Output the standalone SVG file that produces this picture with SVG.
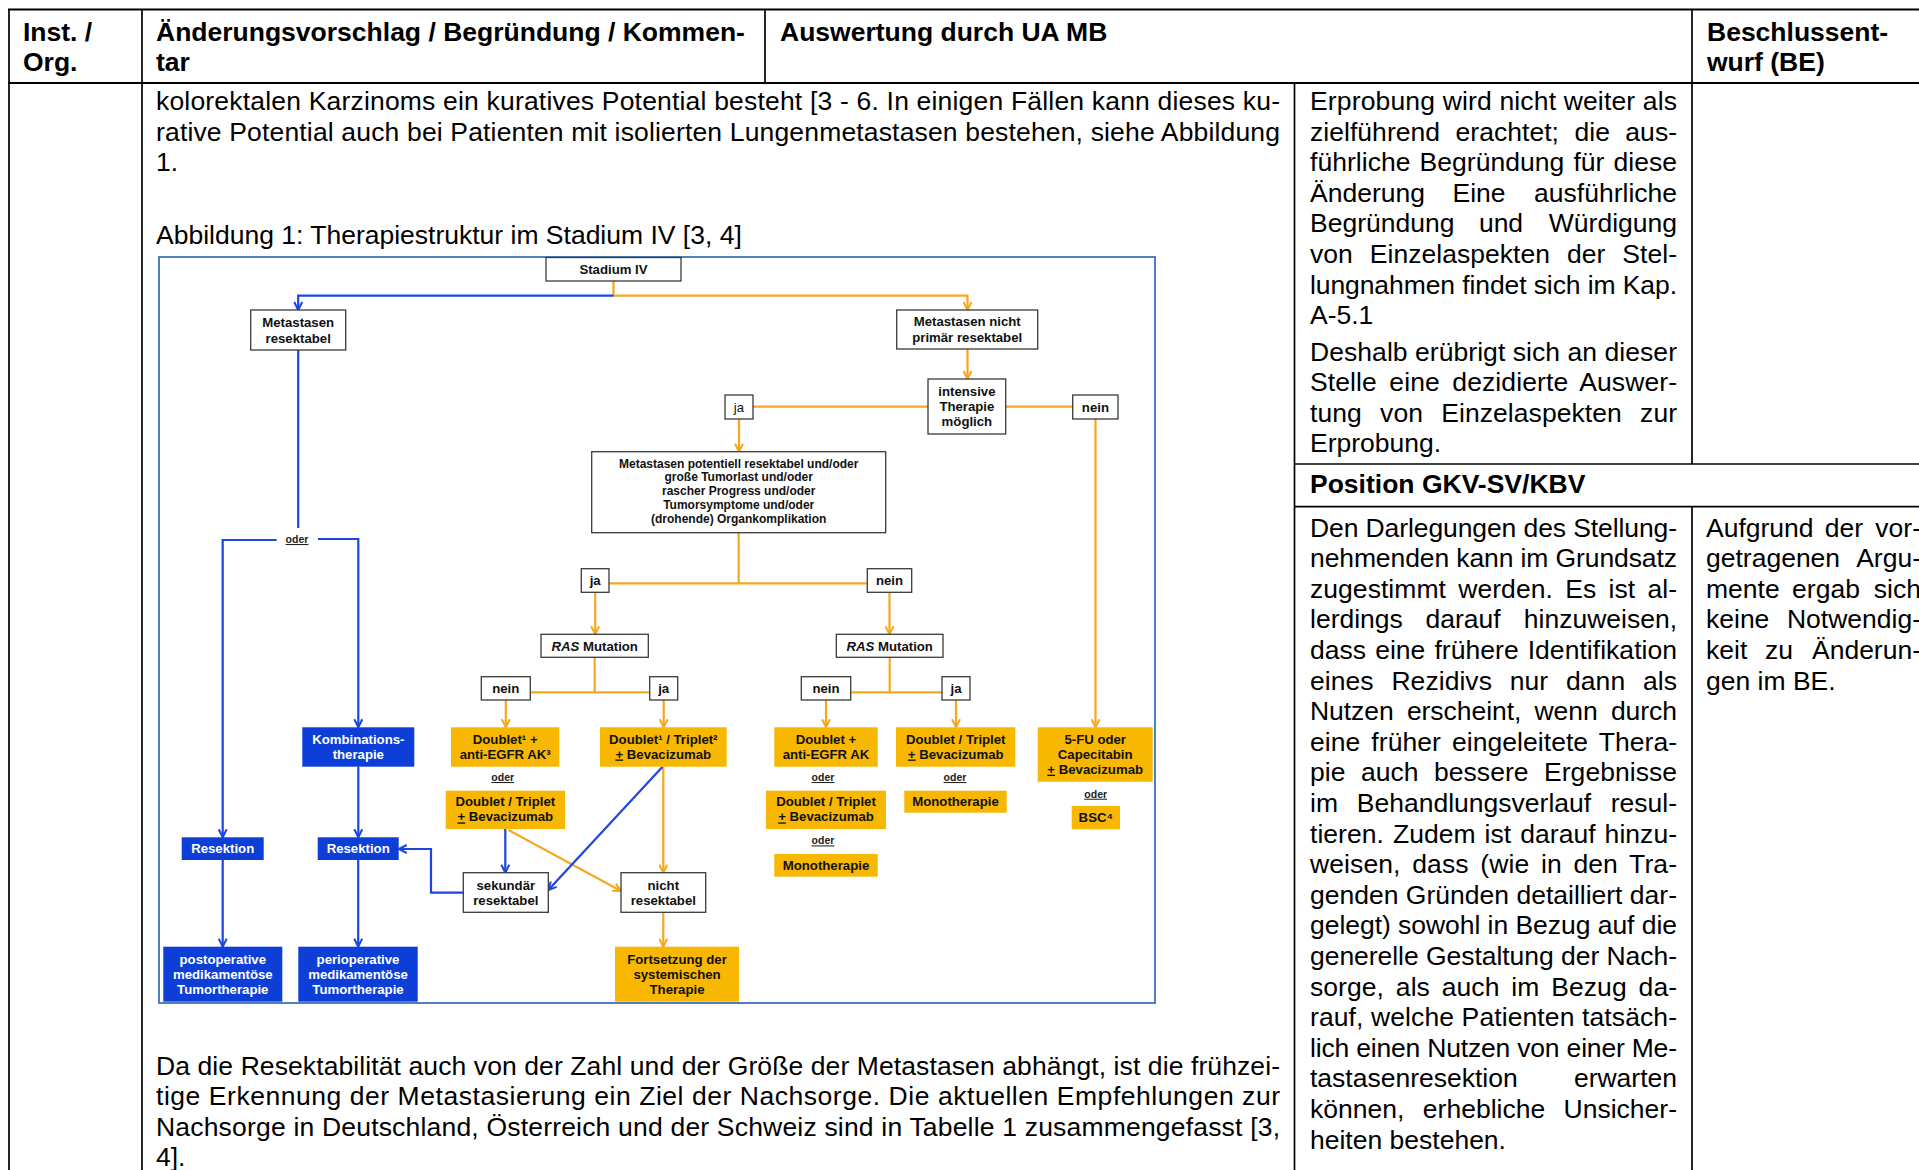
<svg xmlns="http://www.w3.org/2000/svg" width="1919" height="1170" viewBox="0 0 1919 1170">
<defs>
<style>
.t{font-family:"Liberation Sans",Arial,sans-serif;font-size:26.5px;fill:#000}
.b{font-weight:bold}
.ln{stroke:#000;stroke-width:1.7;fill:none}
.lnb{stroke:#000;stroke-width:2.2;fill:none}
.f{font-family:"Liberation Sans",Arial,sans-serif;font-size:13.2px;font-weight:bold;text-anchor:middle;fill:#111}
.fr{font-weight:normal}
.fs{font-size:12px}
.fw{fill:#fff}
.od{font-family:"Liberation Sans",Arial,sans-serif;font-size:10.5px;font-weight:bold;text-anchor:middle;fill:#222;text-decoration:underline}
.wb{fill:#fff;stroke:#3a3a3a;stroke-width:1.3}
.bb{fill:#0d3fd8}
.ob{fill:#f8b700}
.cb{stroke:#1b46e2;stroke-width:2.2;fill:none}
.co{stroke:#f5a81e;stroke-width:2.2;fill:none}
.mb{marker-end:url(#ab)}
.mo{marker-end:url(#ao)}
</style>
<marker id="ab" viewBox="0 0 10 10" refX="9" refY="5" markerWidth="10" markerHeight="10" markerUnits="userSpaceOnUse" orient="auto"><path d="M1,1 L9,5 L1,9" fill="none" stroke="#1b46e2" stroke-width="2"/></marker>
<marker id="ao" viewBox="0 0 10 10" refX="9" refY="5" markerWidth="10" markerHeight="10" markerUnits="userSpaceOnUse" orient="auto"><path d="M1,1 L9,5 L1,9" fill="none" stroke="#f5a81e" stroke-width="2"/></marker>
</defs>
<rect x="0" y="0" width="1919" height="1170" fill="#fff"/>

<g id="table">
<line class="lnb" x1="8" y1="9.5" x2="1919" y2="9.5"/>
<line class="lnb" x1="8" y1="83" x2="1919" y2="83"/>
<line class="ln" x1="9" y1="9" x2="9" y2="1170"/>
<line class="ln" x1="142" y1="9" x2="142" y2="1170"/>
<line class="ln" x1="765" y1="9" x2="765" y2="83"/>
<line class="ln" x1="1294.5" y1="83" x2="1294.5" y2="1170"/>
<line class="ln" x1="1692" y1="9" x2="1692" y2="464"/>
<line class="ln" x1="1692" y1="506.7" x2="1692" y2="1170"/>
<line class="ln" x1="1294.5" y1="464" x2="1919" y2="464"/>
<line class="ln" x1="1294.5" y1="506.7" x2="1919" y2="506.7"/>
</g>

<g id="header">
<text class="t b" x="23" y="41">Inst. /</text>
<text class="t b" x="23" y="71">Org.</text>
<text class="t b" x="156" y="41">Änderungsvorschlag / Begründung / Kommen-</text>
<text class="t b" x="156" y="71">tar</text>
<text class="t b" x="780" y="41">Auswertung durch UA MB</text>
<text class="t b" x="1707" y="41">Beschlussent-</text>
<text class="t b" x="1707" y="71">wurf (BE)</text>
</g>

<g id="left-text">
<text class="t" x="156" y="110" textLength="1124" lengthAdjust="spacing">kolorektalen Karzinoms ein kuratives Potential besteht [3 - 6. In einigen Fällen kann dieses ku-</text>
<text class="t" x="156" y="140.6" textLength="1124" lengthAdjust="spacing">rative Potential auch bei Patienten mit isolierten Lungenmetastasen bestehen, siehe Abbildung</text>
<text class="t" x="156" y="171.2">1.</text>
<text class="t" x="156" y="244">Abbildung 1: Therapiestruktur im Stadium IV [3, 4]</text>
<text class="t" x="156" y="1074.5" textLength="1124" lengthAdjust="spacing">Da die Resektabilität auch von der Zahl und der Größe der Metastasen abhängt, ist die frühzei-</text>
<text class="t" x="156" y="1105" textLength="1124" lengthAdjust="spacing">tige Erkennung der Metastasierung ein Ziel der Nachsorge. Die aktuellen Empfehlungen zur</text>
<text class="t" x="156" y="1135.5" textLength="1124" lengthAdjust="spacing">Nachsorge in Deutschland, Österreich und der Schweiz sind in Tabelle 1 zusammengefasst [3,</text>
<text class="t" x="156" y="1166">4].</text>
</g>

<g id="ua-text">
<text class="t" x="1310" y="110" textLength="367" lengthAdjust="spacing">Erprobung wird nicht weiter als</text>
<text class="t" x="1310" y="140.6" word-spacing="8" textLength="367" lengthAdjust="spacing">zielführend erachtet; die aus-</text>
<text class="t" x="1310" y="171.2" word-spacing="1.6" textLength="367" lengthAdjust="spacing">führliche Begründung für diese</text>
<text class="t" y="201.8"><tspan x="1310">Änderung</tspan><tspan x="1479" text-anchor="middle">Eine</tspan><tspan x="1677" text-anchor="end">ausführliche</tspan></text>
<text class="t" y="232.4"><tspan x="1310">Begründung</tspan><tspan x="1501" text-anchor="middle">und</tspan><tspan x="1677" text-anchor="end">Würdigung</tspan></text>
<text class="t" x="1310" y="263" word-spacing="9.5" textLength="367" lengthAdjust="spacing">von Einzelaspekten der Stel-</text>
<text class="t" x="1310" y="293.6" textLength="367" lengthAdjust="spacing">lungnahmen findet sich im Kap.</text>
<text class="t" x="1310" y="324.2">A-5.1</text>
<text class="t" x="1310" y="360.5" textLength="367" lengthAdjust="spacing">Deshalb erübrigt sich an dieser</text>
<text class="t" x="1310" y="391.1" word-spacing="5" textLength="367" lengthAdjust="spacing">Stelle eine dezidierte Auswer-</text>
<text class="t" x="1310" y="421.7" word-spacing="10.9" textLength="367" lengthAdjust="spacing">tung von Einzelaspekten zur</text>
<text class="t" x="1310" y="452.3">Erprobung.</text>
<text class="t b" x="1310" y="493">Position GKV-SV/KBV</text>
<text class="t" x="1310" y="536.5" textLength="367" lengthAdjust="spacing">Den Darlegungen des Stellung-</text>
<text class="t" x="1310" y="567.1" textLength="367" lengthAdjust="spacing">nehmenden kann im Grundsatz</text>
<text class="t" x="1310" y="597.7" word-spacing="4.9" textLength="367" lengthAdjust="spacing">zugestimmt werden. Es ist al-</text>
<text class="t" y="628.3"><tspan x="1310">lerdings</tspan><tspan x="1463" text-anchor="middle">darauf</tspan><tspan x="1677" text-anchor="end">hinzuweisen,</tspan></text>
<text class="t" x="1310" y="658.9" word-spacing="1.6" textLength="367" lengthAdjust="spacing">dass eine frühere Identifikation</text>
<text class="t" x="1310" y="689.5" word-spacing="10.4" textLength="367" lengthAdjust="spacing">eines Rezidivs nur dann als</text>
<text class="t" x="1310" y="720.1" word-spacing="5.9" textLength="367" lengthAdjust="spacing">Nutzen erscheint, wenn durch</text>
<text class="t" x="1310" y="750.7" word-spacing="3.6" textLength="367" lengthAdjust="spacing">eine früher eingeleitete Thera-</text>
<text class="t" x="1310" y="781.3" word-spacing="8" textLength="367" lengthAdjust="spacing">pie auch bessere Ergebnisse</text>
<text class="t" y="811.9"><tspan x="1310">im</tspan><tspan x="1474" text-anchor="middle">Behandlungsverlauf</tspan><tspan x="1677" text-anchor="end">resul-</tspan></text>
<text class="t" x="1310" y="842.5" word-spacing="1.6" textLength="367" lengthAdjust="spacing">tieren. Zudem ist darauf hinzu-</text>
<text class="t" x="1310" y="873.1" word-spacing="4.2" textLength="367" lengthAdjust="spacing">weisen, dass (wie in den Tra-</text>
<text class="t" x="1310" y="903.7" textLength="367" lengthAdjust="spacing">genden Gründen detailliert dar-</text>
<text class="t" x="1310" y="934.3" textLength="367" lengthAdjust="spacing">gelegt) sowohl in Bezug auf die</text>
<text class="t" x="1310" y="964.9" textLength="367" lengthAdjust="spacing">generelle Gestaltung der Nach-</text>
<text class="t" x="1310" y="995.5" word-spacing="4.5" textLength="367" lengthAdjust="spacing">sorge, als auch im Bezug da-</text>
<text class="t" x="1310" y="1026.1" textLength="367" lengthAdjust="spacing">rauf, welche Patienten tatsäch-</text>
<text class="t" x="1310" y="1056.7" textLength="367" lengthAdjust="spacing">lich einen Nutzen von einer Me-</text>
<text class="t" y="1087.3"><tspan x="1310">tastasenresektion</tspan><tspan x="1677" text-anchor="end">erwarten</tspan></text>
<text class="t" y="1117.9"><tspan x="1310">können,</tspan><tspan x="1484" text-anchor="middle">erhebliche</tspan><tspan x="1677" text-anchor="end">Unsicher-</tspan></text>
<text class="t" x="1310" y="1148.5">heiten bestehen.</text>
</g>

<g id="be-text">
<text class="t" y="536.5"><tspan x="1706">Aufgrund</tspan><tspan x="1844" text-anchor="middle">der</tspan><tspan x="1921" text-anchor="end">vor-</tspan></text>
<text class="t" y="567.1"><tspan x="1706">getragenen</tspan><tspan x="1921" text-anchor="end">Argu-</tspan></text>
<text class="t" y="597.7"><tspan x="1706">mente</tspan><tspan x="1826" text-anchor="middle">ergab</tspan><tspan x="1921" text-anchor="end">sich</tspan></text>
<text class="t" y="628.3"><tspan x="1706">keine</tspan><tspan x="1921" text-anchor="end">Notwendig-</tspan></text>
<text class="t" y="658.9"><tspan x="1706">keit</tspan><tspan x="1779" text-anchor="middle">zu</tspan><tspan x="1921" text-anchor="end">Änderun-</tspan></text>
<text class="t" x="1706" y="689.5">gen im BE.</text>
</g>

<g id="figure">
<rect x="159" y="257" width="996" height="746" fill="#fff" stroke="#4f7fc0" stroke-width="2"/>

<g id="connectors">
<path class="co mo" d="M613.5,281 V295.7 H967.5 V310"/>
<path class="cb mb" d="M613.5,295.7 H298.2 V310"/>
<path class="cb" d="M298.2,350 V528"/>
<path class="cb mb" d="M276.7,540 H222.7 V837.3"/>
<path class="cb mb" d="M318,539 H358.3 V727.3"/>
<path class="cb mb" d="M358.3,766.7 V837.3"/>
<path class="cb mb" d="M222.7,860 V946.7"/>
<path class="cb mb" d="M358.2,860 V946.7"/>
<path class="co mo" d="M967.5,349 V379"/>
<path class="co" d="M928,406.7 H753"/>
<path class="co" d="M1005.7,406.7 H1072.7"/>
<path class="co mo" d="M739,419 V451.7"/>
<path class="co mo" d="M1095.5,419 V727.3"/>
<path class="co" d="M738.7,532.7 V583.3"/>
<path class="co" d="M609,583.3 H867.3"/>
<path class="co mo" d="M595.2,592.3 V634.3"/>
<path class="co mo" d="M889.5,592.3 V634.3"/>
<path class="co" d="M594.7,657.3 V692.3"/>
<path class="co" d="M530.3,692.3 H649.7"/>
<path class="co mo" d="M505.8,700 V727.3"/>
<path class="co mo" d="M663.7,700 V727.3"/>
<path class="co" d="M889.7,657.3 V692.3"/>
<path class="co" d="M850.7,692.3 H942"/>
<path class="co mo" d="M826,700 V727.3"/>
<path class="co mo" d="M956,700 V727.3"/>
<path class="co mo" d="M663.3,766.7 V872.7"/>
<path class="co mo" d="M508.3,830 L621,891"/>
<path class="co mo" d="M663.3,912.3 V946.7"/>
<path class="cb mb" d="M505.3,829 V872.7"/>
<path class="cb mb" d="M463.3,892.7 H431 V849 H398.7"/>
<path class="cb mb" d="M662.3,767 L548.3,890"/>
<text class="od" x="297" y="543">oder</text>
<text class="od" x="502.7" y="781">oder</text>
<text class="od" x="823" y="781">oder</text>
<text class="od" x="955" y="781">oder</text>
<text class="od" x="823" y="844.4">oder</text>
<text class="od" x="1095.7" y="797.7">oder</text>
</g>

<g id="n-stadium"><rect class="wb" x="546" y="257.5" width="135" height="23.5"/><text class="f" x="613.5" y="274">Stadium IV</text></g>
<g id="n-resektabel"><rect class="wb" x="250.7" y="310" width="95" height="40"/><text class="f" x="298.2" y="327.3">Metastasen</text><text class="f" x="298.2" y="342.6">resektabel</text></g>
<g id="n-nicht-primaer"><rect class="wb" x="896.7" y="310" width="141" height="39"/><text class="f" x="967.2" y="326.4">Metastasen nicht</text><text class="f" x="967.2" y="342">primär resektabel</text></g>
<g id="n-intensiv"><rect class="wb" x="928" y="379" width="77.7" height="55"/><text class="f" x="966.9" y="395.7">intensive</text><text class="f" x="966.9" y="411.4">Therapie</text><text class="f" x="966.9" y="426.4">möglich</text></g>
<g id="n-ja1"><rect class="wb" x="725" y="395" width="28" height="24"/><text class="f fr" x="739" y="411.7">ja</text></g>
<g id="n-nein1"><rect class="wb" x="1072.7" y="395" width="45.3" height="24"/><text class="f" x="1095.4" y="411.7">nein</text></g>
<g id="n-potentiell"><rect class="wb" x="591.7" y="451.7" width="294" height="81"/>
<text class="f fs" x="738.7" y="467.5">Metastasen potentiell resektabel und/oder</text>
<text class="f fs" x="738.7" y="481.4">große Tumorlast und/oder</text>
<text class="f fs" x="738.7" y="495.3">rascher Progress und/oder</text>
<text class="f fs" x="738.7" y="509.2">Tumorsymptome und/oder</text>
<text class="f fs" x="738.7" y="523.1">(drohende) Organkomplikation</text></g>
<g id="n-ja2"><rect class="wb" x="581.3" y="568.7" width="27.7" height="23.6"/><text class="f" x="595.2" y="585.2">ja</text></g>
<g id="n-nein2"><rect class="wb" x="867.3" y="568.7" width="44.4" height="23.6"/><text class="f" x="889.5" y="585.2">nein</text></g>
<g id="n-ras1"><rect class="wb" x="541" y="634.3" width="107.3" height="23"/><text class="f" x="594.7" y="651"><tspan font-style="italic">RAS</tspan> Mutation</text></g>
<g id="n-ras2"><rect class="wb" x="836.3" y="634.3" width="106.7" height="23"/><text class="f" x="889.7" y="651"><tspan font-style="italic">RAS</tspan> Mutation</text></g>
<g id="n-nein3a"><rect class="wb" x="481.3" y="676.7" width="49" height="23.3"/><text class="f" x="505.8" y="693">nein</text></g>
<g id="n-ja3a"><rect class="wb" x="649.7" y="676.7" width="28" height="23.3"/><text class="f" x="663.7" y="693">ja</text></g>
<g id="n-nein3b"><rect class="wb" x="801.3" y="676.7" width="49.4" height="23.3"/><text class="f" x="826" y="693">nein</text></g>
<g id="n-ja3b"><rect class="wb" x="942" y="676.7" width="28" height="23.3"/><text class="f" x="956" y="693">ja</text></g>
<g id="n-sekundaer"><rect class="wb" x="463.3" y="872.7" width="85" height="39.6"/><text class="f" x="505.8" y="889.7">sekundär</text><text class="f" x="505.8" y="904.7">resektabel</text></g>
<g id="n-nicht-res"><rect class="wb" x="621" y="872.7" width="84.7" height="39.6"/><text class="f" x="663.3" y="889.7">nicht</text><text class="f" x="663.3" y="904.7">resektabel</text></g>

<g id="n-kombi"><rect class="bb" x="302.3" y="727.3" width="112" height="39.4"/><text class="f fw" x="358.3" y="743.7">Kombinations-</text><text class="f fw" x="358.3" y="758.7">therapie</text></g>
<g id="n-resektion1"><rect class="bb" x="181.7" y="837.3" width="82" height="22.7"/><text class="f fw" x="222.7" y="853.4">Resektion</text></g>
<g id="n-resektion2"><rect class="bb" x="317.7" y="837.3" width="81" height="22.7"/><text class="f fw" x="358.2" y="853.4">Resektion</text></g>
<g id="n-postop"><rect class="bb" x="163.3" y="946.7" width="119" height="55"/><text class="f fw" x="222.8" y="963.7">postoperative</text><text class="f fw" x="222.8" y="978.7">medikamentöse</text><text class="f fw" x="222.8" y="993.7">Tumortherapie</text></g>
<g id="n-periop"><rect class="bb" x="298.3" y="946.7" width="119.4" height="55"/><text class="f fw" x="358" y="963.7">perioperative</text><text class="f fw" x="358" y="978.7">medikamentöse</text><text class="f fw" x="358" y="993.7">Tumortherapie</text></g>

<g id="n-d1"><rect class="ob" x="451" y="727.3" width="108.3" height="39.4"/><text class="f" x="505.2" y="743.7">Doublet¹ +</text><text class="f" x="505.2" y="758.5">anti-EGFR AK³</text></g>
<g id="n-d2"><rect class="ob" x="600" y="727.3" width="126.7" height="39.4"/><text class="f" x="663.3" y="743.7">Doublet¹ / Triplet²</text><text class="f" x="663.3" y="758.5"><tspan text-decoration="underline">+</tspan> Bevacizumab</text></g>
<g id="n-d3"><rect class="ob" x="774.3" y="727.3" width="103.4" height="39.4"/><text class="f" x="826" y="743.7">Doublet +</text><text class="f" x="826" y="758.5">anti-EGFR AK</text></g>
<g id="n-d4"><rect class="ob" x="896" y="727.3" width="119.3" height="39.4"/><text class="f" x="955.7" y="743.7">Doublet / Triplet</text><text class="f" x="955.7" y="758.5"><tspan text-decoration="underline">+</tspan> Bevacizumab</text></g>
<g id="n-5fu"><rect class="ob" x="1037.7" y="727.3" width="115" height="54.4"/><text class="f" x="1095.2" y="743.7">5-FU oder</text><text class="f" x="1095.2" y="758.7">Capecitabin</text><text class="f" x="1095.2" y="773.7"><tspan text-decoration="underline">+</tspan> Bevacizumab</text></g>
<g id="n-d1b"><rect class="ob" x="445.7" y="790.7" width="119.3" height="38.3"/><text class="f" x="505.3" y="806.4">Doublet / Triplet</text><text class="f" x="505.3" y="821.4"><tspan text-decoration="underline">+</tspan> Bevacizumab</text></g>
<g id="n-d3b"><rect class="ob" x="766" y="790.7" width="120" height="38.3"/><text class="f" x="826" y="806.4">Doublet / Triplet</text><text class="f" x="826" y="821.4"><tspan text-decoration="underline">+</tspan> Bevacizumab</text></g>
<g id="n-mono4"><rect class="ob" x="904.3" y="790.7" width="102.4" height="22"/><text class="f" x="955.5" y="806">Monotherapie</text></g>
<g id="n-mono3"><rect class="ob" x="774.3" y="854" width="103.4" height="22.7"/><text class="f" x="826" y="870">Monotherapie</text></g>
<g id="n-bsc"><rect class="ob" x="1071.7" y="806" width="48.3" height="23.3"/><text class="f" x="1095.8" y="822.4">BSC⁴</text></g>
<g id="n-fortsetzung"><rect class="ob" x="615" y="946.7" width="124" height="55"/><text class="f" x="677" y="963.7">Fortsetzung der</text><text class="f" x="677" y="978.7">systemischen</text><text class="f" x="677" y="993.7">Therapie</text></g>
</g>
</svg>
